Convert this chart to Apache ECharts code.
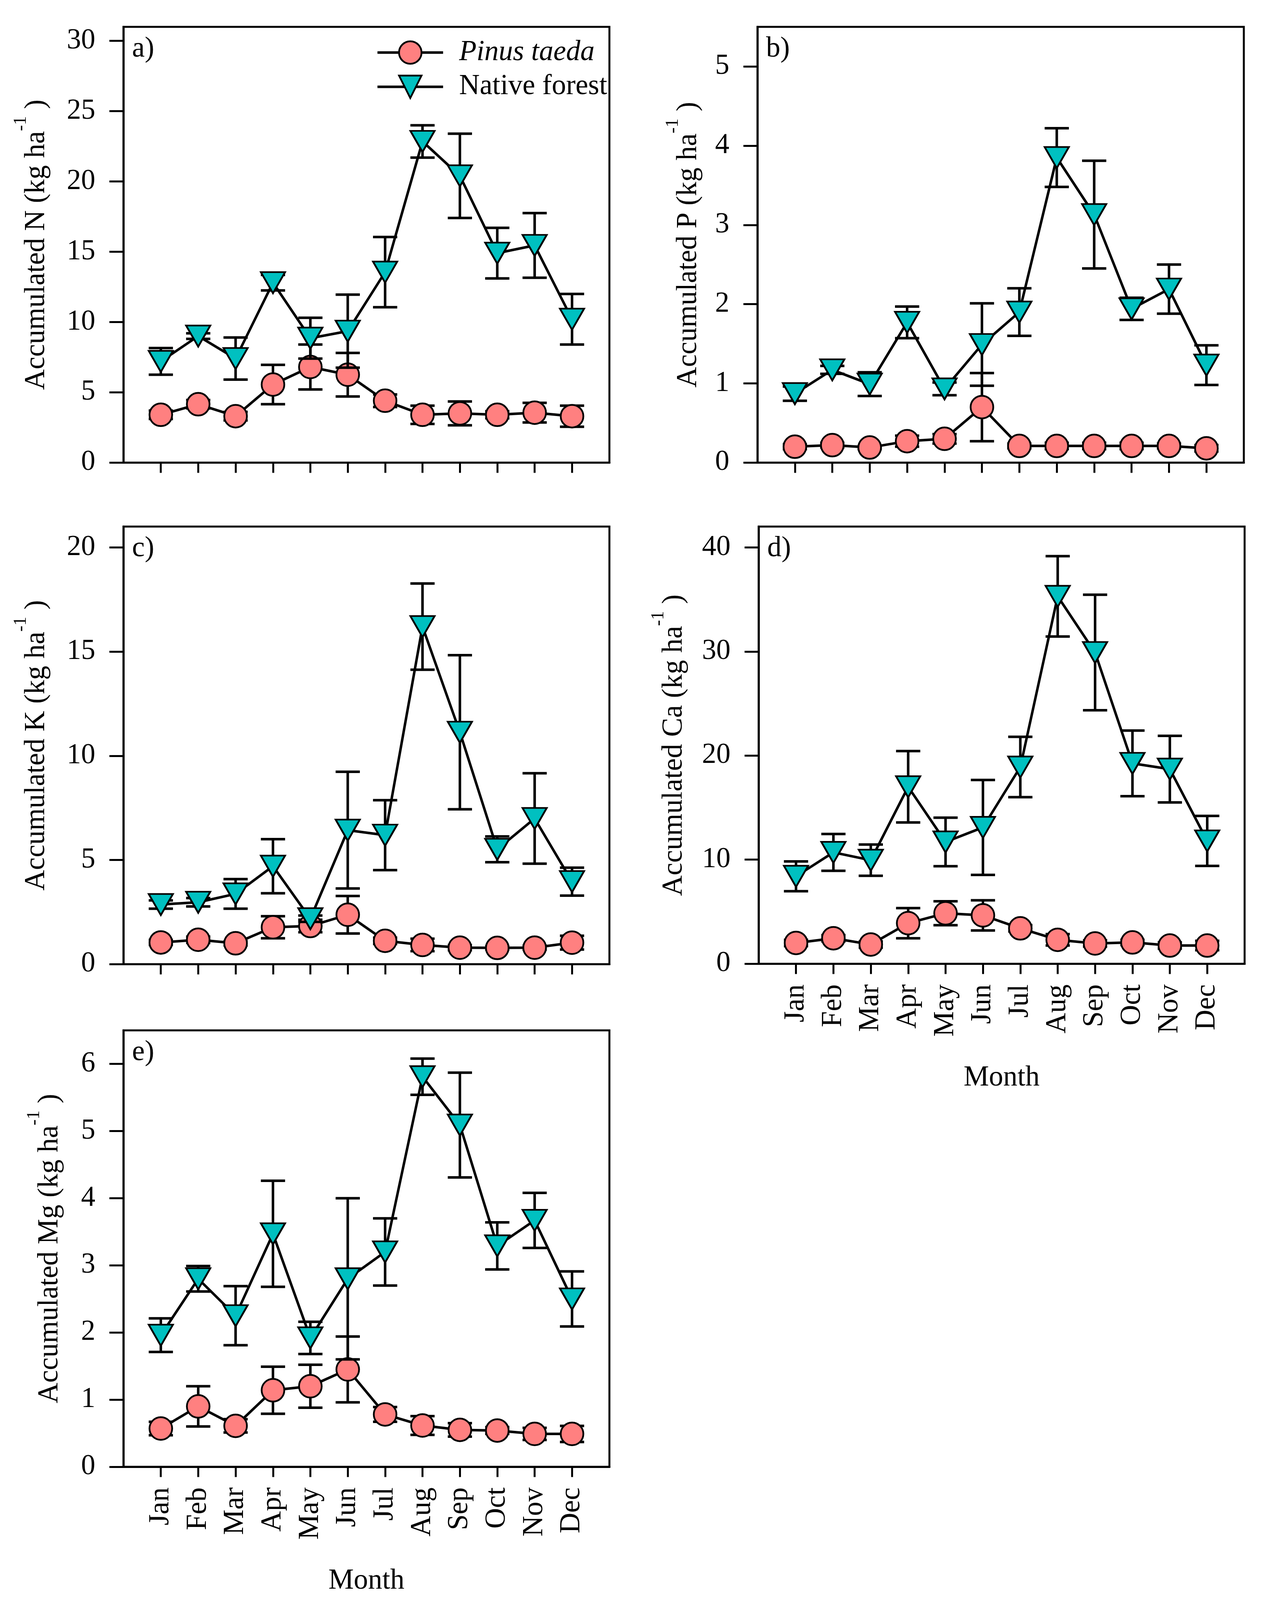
<!DOCTYPE html>
<html>
<head>
<meta charset="utf-8">
<script src="https://cdn.jsdelivr.net/npm/echarts@6/dist/echarts.min.js"></script>
<style>
html,body{margin:0;padding:0;background:#fff;overflow:hidden;}
#chart{width:3251px;height:4348px;}
</style>
</head>
<body>
<div id="chart"></div>
<script>
// ---------- data ----------
const months = ['Jan','Feb','Mar','Apr','May','Jun','Jul','Aug','Sep','Oct','Nov','Dec'];
const seriesNames = ['Pinus taeda', 'Native forest'];

const pinusN     = [3.4, 4.15, 3.3, 5.55, 6.8, 6.25, 4.4, 3.4, 3.5, 3.4, 3.55, 3.3];
const pinusNErr  = [0.3, 0.3, 0.3, 1.4, 1.6, 1.55, 0.45, 0.65, 0.85, 0.25, 0.7, 0.75];
const nativeN    = [7.2, 9.0, 7.4, 12.8, 8.85, 9.35, 13.55, 22.85, 20.4, 14.9, 15.45, 10.2];
const nativeNErr = [0.95, 0.2, 1.5, 0.55, 1.45, 2.6, 2.5, 1.15, 3.0, 1.8, 2.3, 1.8];

const pinusP     = [0.2, 0.22, 0.19, 0.27, 0.3, 0.7, 0.21, 0.21, 0.21, 0.21, 0.21, 0.18];
const pinusPErr  = [0.03, 0.03, 0.02, 0.07, 0.06, 0.43, 0.03, 0.04, 0.04, 0.04, 0.03, 0.04];
const nativeP    = [0.87, 1.17, 0.99, 1.77, 0.93, 1.49, 1.9, 3.85, 3.13, 1.94, 2.19, 1.23];
const nativePErr = [0.09, 0.05, 0.15, 0.2, 0.08, 0.52, 0.3, 0.37, 0.68, 0.14, 0.31, 0.25];

const pinusK     = [1.04, 1.17, 1.0, 1.77, 1.83, 2.37, 1.12, 0.92, 0.79, 0.78, 0.79, 1.03];
const pinusKErr  = [0.12, 0.15, 0.1, 0.53, 0.3, 0.9, 0.15, 0.3, 0.12, 0.08, 0.1, 0.33];
const nativeK    = [2.86, 2.97, 3.37, 4.7, 2.18, 6.43, 6.19, 16.2, 11.13, 5.51, 6.99, 3.96];
const nativeKErr = [0.2, 0.2, 0.71, 1.3, 0.15, 2.8, 1.68, 2.07, 3.7, 0.62, 2.17, 0.67];

const pinusCa     = [2.0, 2.45, 1.85, 3.9, 4.85, 4.65, 3.4, 2.3, 1.95, 2.05, 1.75, 1.75];
const pinusCaErr  = [0.3, 0.3, 0.3, 1.45, 1.15, 1.45, 0.3, 0.55, 0.3, 0.25, 0.3, 0.45];
const nativeCa    = [8.4, 10.7, 9.95, 17.0, 11.7, 13.1, 18.9, 35.3, 29.9, 19.25, 18.7, 11.8];
const nativeCaErr = [1.43, 1.77, 1.5, 3.43, 2.33, 4.56, 2.9, 3.86, 5.55, 3.15, 3.2, 2.4];

const pinusMg     = [0.57, 0.9, 0.61, 1.14, 1.2, 1.45, 0.78, 0.615, 0.55, 0.54, 0.49, 0.49];
const pinusMgErr  = [0.1, 0.3, 0.1, 0.35, 0.32, 0.49, 0.11, 0.14, 0.1, 0.05, 0.09, 0.12];
const nativeMg    = [1.96, 2.8, 2.25, 3.47, 1.92, 2.8, 3.2, 5.81, 5.09, 3.29, 3.67, 2.5];
const nativeMgErr = [0.25, 0.19, 0.44, 0.79, 0.24, 1.2, 0.5, 0.27, 0.78, 0.35, 0.41, 0.41];

const yTicksN  = [0, 5, 10, 15, 20, 25, 30];
const yTicksP  = [0, 1, 2, 3, 4, 5];
const yTicksK  = [0, 5, 10, 15, 20];
const yTicksCa = [0, 10, 20, 30, 40];
const yTicksMg = [0, 1, 2, 3, 4, 5, 6];

const panelLabels = ['a)', 'b)', 'c)', 'd)', 'e)'];
const nutrients = ['N', 'P', 'K', 'Ca', 'Mg'];
const xTitle = 'Month';

// ---------- layout / style ----------
// Layout is designed for a 3251 x 4348 page; vertical positions are fitted to the real viewport.
const REF_H = 4348;
const VH = window.innerHeight || REF_H;
const sy = VH / REF_H;
const Y = v => v * sy;
document.getElementById('chart').style.height = VH + 'px';

const FONT = 'Liberation Serif';
const FS = 73;
const PINK = '#ff8080';
const CYAN = '#00c0c0';
const LW = 5;     // frame / ticks
const DLW = 6.5;  // data lines and error bars

const panels = [
  {pin: pinusN, pinE: pinusNErr, nat: nativeN, natE: nativeNErr, max: 31, ticks: yTicksN,
   grid: {left: 316, top: 73, width: 1244, height: 1184}, nameGap: 186, showX: false},
  {pin: pinusP, pinE: pinusPErr, nat: nativeP, natE: nativePErr, max: 5.5, ticks: yTicksP,
   grid: {left: 1939, top: 73, width: 1245, height: 1184}, nameGap: 140, showX: false},
  {pin: pinusK, pinE: pinusKErr, nat: nativeK, natE: nativeKErr, max: 21, ticks: yTicksK,
   grid: {left: 316, top: 1431, width: 1244, height: 1189}, nameGap: 186, showX: false},
  {pin: pinusCa, pinE: pinusCaErr, nat: nativeCa, natE: nativeCaErr, max: 42, ticks: yTicksCa,
   grid: {left: 1942, top: 1431, width: 1244, height: 1188}, nameGap: 180, showX: true},
  {pin: pinusMg, pinE: pinusMgErr, nat: nativeMg, natE: nativeMgErr, max: 6.5, ticks: yTicksMg,
   grid: {left: 316, top: 2800, width: 1244, height: 1186}, nameGap: 152, showX: true}
];

const monthPos = months.map((m, i) => i + 1);

function errRender(params, api) {
  const x = api.value(0), y = api.value(1), e = api.value(2);
  const top = api.coord([x, y + e]);
  const bot = api.coord([x, y - e]);
  const cw = 31;
  const st = {stroke: '#000', lineWidth: DLW, fill: null};
  return {
    type: 'group',
    children: [
      {type: 'line', shape: {x1: top[0], y1: top[1], x2: bot[0], y2: bot[1]}, style: st},
      {type: 'line', shape: {x1: top[0] - cw, y1: top[1], x2: top[0] + cw, y2: top[1]}, style: st},
      {type: 'line', shape: {x1: bot[0] - cw, y1: bot[1], x2: bot[0] + cw, y2: bot[1]}, style: st}
    ]
  };
}

const grids = [], xAxes = [], yAxes = [], series = [], titles = [];
panels.forEach((p, k) => {
  grids.push({show: true, borderColor: '#000', borderWidth: LW, backgroundColor: 'transparent', containLabel: false,
    left: p.grid.left, width: p.grid.width, top: Y(p.grid.top), height: Y(p.grid.height)});
  xAxes.push({
    type: 'value', gridIndex: k, min: 0, max: 13,
    name: p.showX ? xTitle : '', nameLocation: 'middle', nameGap: Y(272),
    nameTextStyle: {fontFamily: FONT, fontSize: FS, color: '#000'},
    axisLine: {show: true, lineStyle: {color: '#000', width: LW}},
    axisTick: {show: true, inside: false, length: Y(28), lineStyle: {color: '#000', width: LW}, customValues: monthPos},
    axisLabel: {show: p.showX, customValues: monthPos, rotate: 90, margin: Y(56),
      fontFamily: FONT, fontSize: FS, color: '#000',
      formatter: v => months[Math.round(v) - 1] || ''},
    splitLine: {show: false}
  });
  yAxes.push({
    type: 'value', gridIndex: k, min: 0, max: p.max,
    name: '{t|Accumulated ' + nutrients[k] + ' (kg ha}{s|-1}{t| )}',
    nameLocation: 'middle', nameGap: p.nameGap, nameRotate: 90,
    nameTextStyle: {
      fontFamily: FONT, fontSize: FS, color: '#000',
      rich: {
        t: {fontFamily: FONT, fontSize: FS, color: '#000', padding: [26, 0, 0, 0], verticalAlign: 'bottom'},
        s: {fontFamily: FONT, fontSize: 46, color: '#000', verticalAlign: 'top'}
      }
    },
    axisLine: {show: true, lineStyle: {color: '#000', width: LW}},
    axisTick: {show: true, inside: false, length: 36, lineStyle: {color: '#000', width: LW}, customValues: p.ticks},
    axisLabel: {show: true, customValues: p.ticks, margin: 72, fontFamily: FONT, fontSize: FS, color: '#000'},
    splitLine: {show: false}
  });
  titles.push({text: panelLabels[k], left: p.grid.left + 22, top: Y(p.grid.top + 22), padding: 0,
    textStyle: {fontFamily: FONT, fontSize: FS, fontWeight: 'normal', color: '#000'}});

  const pinData = p.pin.map((v, i) => [monthPos[i], v]);
  const pinErr = p.pin.map((v, i) => [monthPos[i], v, p.pinE[i]]);
  const natData = p.nat.map((v, i) => [monthPos[i], v]);
  const natErr = p.nat.map((v, i) => [monthPos[i], v, p.natE[i]]);

  series.push({type: 'custom', xAxisIndex: k, yAxisIndex: k, renderItem: errRender, data: pinErr, z: 2, silent: true});
  series.push({type: 'line', name: seriesNames[0], xAxisIndex: k, yAxisIndex: k, data: pinData, z: 3,
    symbol: 'circle', symbolSize: 58,
    itemStyle: {color: PINK, borderColor: '#000', borderWidth: 4.5},
    lineStyle: {color: '#000', width: DLW}});
  series.push({type: 'custom', xAxisIndex: k, yAxisIndex: k, renderItem: errRender, data: natErr, z: 4, silent: true});
  series.push({type: 'line', name: seriesNames[1], xAxisIndex: k, yAxisIndex: k, data: natData, z: 5,
    symbol: 'triangle', symbolRotate: 180, symbolSize: [62, 54],
    itemStyle: {color: CYAN, borderColor: '#000', borderWidth: 4.5},
    lineStyle: {color: '#000', width: DLW}});
});

const chart = echarts.init(document.getElementById('chart'), null, {renderer: 'canvas'});
chart.setOption({
  animation: false,
  backgroundColor: '#fff',
  title: titles,
  legend: {
    data: seriesNames, orient: 'vertical', left: 958, top: Y(137) - 36,
    itemWidth: 168, itemHeight: 72, itemGap: Y(92) - 72,
    lineStyle: {color: '#000', width: DLW},
    itemStyle: {borderColor: '#000', borderWidth: 4.5},
    formatter: name => name === seriesNames[0] ? '{i|' + name + '}' : '{n|' + name + '}',
    textStyle: {
      fontFamily: FONT, fontSize: FS, color: '#000',
      rich: {
        i: {fontFamily: FONT, fontSize: FS, fontStyle: 'italic', color: '#000', padding: [0, 0, 0, 36]},
        n: {fontFamily: FONT, fontSize: FS, color: '#000', padding: [0, 0, 0, 36]}
      }
    }
  },
  grid: grids,
  xAxis: xAxes,
  yAxis: yAxes,
  series: series
});
</script>
</body>
</html>
